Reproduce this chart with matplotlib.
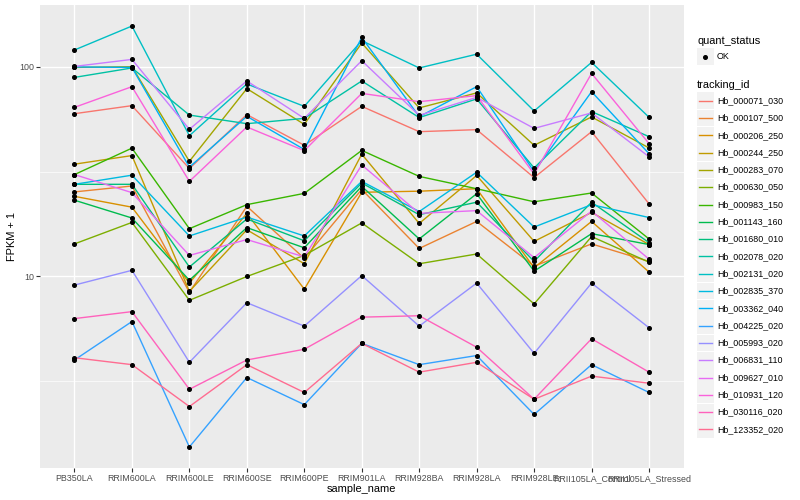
import numpy as np
import matplotlib
matplotlib.use('Agg')
import matplotlib.pyplot as plt
from matplotlib.patches import Rectangle
from matplotlib.lines import Line2D
from matplotlib.ticker import FixedLocator, NullFormatter

plt.rcParams['font.family'] = ['Liberation Sans', 'DejaVu Sans']

samples = ['PB350LA', 'RRIM600LA', 'RRIM600LE', 'RRIM600SE', 'RRIM600PE', 'RRIM901LA',
           'RRIM928BA', 'RRIM928LA', 'RRIM928LE', 'RRII105LA_Control', 'RRII105LA_Stressed']

tracking_ids = ['Hb_000071_030', 'Hb_000107_500', 'Hb_000206_250', 'Hb_000244_250',
                'Hb_000283_070', 'Hb_000630_050', 'Hb_000983_150', 'Hb_001143_160',
                'Hb_001680_010', 'Hb_002078_020', 'Hb_002131_020', 'Hb_002835_370',
                'Hb_003362_040', 'Hb_004225_020', 'Hb_005993_020', 'Hb_006831_110',
                'Hb_009627_010', 'Hb_010931_120', 'Hb_030116_020', 'Hb_123352_020']

# ggplot hue palette, 20 levels
colors = ['#F8766D', '#EA8331', '#D89000', '#C09B00', '#A3A500', '#7CAE00', '#39B600',
          '#00BB4E', '#00BF7D', '#00C1A3', '#00BFC4', '#00BAE0', '#00B0F6', '#35A2FF',
          '#9590FF', '#C77CFF', '#E76BF3', '#FA62DB', '#FF62BC', '#FF6C91']

# FPKM + 1, one value per sample
hb_000071_030 = [59.7, 65.2, 32.7, 59.1, 42.2, 64.7, 49.0, 50.1, 29.6, 49.0, 22.2]
hb_000107_500 = [25.3, 27.0, 8.4, 21.6, 12.2, 26.0, 13.6, 18.3, 11.2, 14.3, 11.8]
hb_000206_250 = [24.1, 21.4, 9.3, 20.0, 8.7, 25.2, 25.5, 26.2, 11.0, 18.3, 10.5]
hb_000244_250 = [34.3, 37.7, 8.5, 16.7, 11.5, 38.3, 17.9, 30.3, 14.7, 20.2, 14.2]
hb_000283_070 = [99.2, 100.0, 35.4, 78.6, 53.1, 129.7, 63.6, 75.0, 42.2, 57.6, 41.0]
hb_000630_050 = [14.3, 18.1, 7.7, 10.0, 12.6, 18.0, 11.5, 12.8, 7.4, 15.5, 11.7]
hb_000983_150 = [30.6, 40.9, 16.9, 22.0, 24.9, 39.9, 30.0, 26.2, 22.7, 25.0, 15.1]
hb_001143_160 = [23.1, 19.0, 9.6, 17.1, 13.7, 26.9, 15.1, 24.8, 10.6, 16.0, 14.2]
hb_001680_010 = [27.5, 27.5, 11.1, 18.8, 14.8, 27.9, 19.7, 22.6, 11.8, 22.6, 14.5]
hb_002078_020 = [88.9, 98.6, 58.8, 53.5, 56.7, 85.5, 57.2, 70.2, 32.9, 61.1, 46.4]
hb_002131_020 = [120.1, 156.2, 46.9, 82.7, 64.7, 133.0, 98.6, 114.7, 61.5, 104.8, 57.4]
hb_002835_370 = [27.5, 30.4, 15.6, 19.2, 15.6, 28.4, 20.4, 31.4, 17.2, 22.0, 19.1]
hb_003362_040 = [99.7, 99.2, 33.2, 58.0, 40.3, 137.9, 57.8, 80.3, 31.6, 76.0, 38.5]
hb_004225_020 = [4.0, 6.1, 1.54, 3.3, 2.45, 4.8, 3.8, 4.2, 2.2, 3.8, 2.8]
hb_005993_020 = [9.1, 10.7, 3.9, 7.5, 5.8, 10.1, 5.8, 9.3, 4.3, 9.3, 5.7]
hb_006831_110 = [100.3, 108.3, 50.3, 85.5, 56.7, 106.8, 58.6, 71.4, 50.8, 60.2, 37.2]
hb_009627_010 = [30.6, 25.1, 12.6, 15.0, 12.4, 34.0, 20.0, 20.6, 12.3, 20.5, 12.1]
hb_010931_120 = [64.0, 80.3, 28.4, 51.6, 39.8, 74.6, 68.1, 72.8, 30.8, 92.9, 43.0]
hb_030116_020 = [6.3, 6.8, 2.9, 4.0, 4.5, 6.4, 6.5, 4.6, 2.6, 5.05, 3.5]
hb_123352_020 = [4.1, 3.8, 2.4, 3.8, 2.8, 4.8, 3.5, 3.9, 2.6, 3.35, 3.1]

series = [hb_000071_030, hb_000107_500, hb_000206_250, hb_000244_250, hb_000283_070,
          hb_000630_050, hb_000983_150, hb_001143_160, hb_001680_010, hb_002078_020,
          hb_002131_020, hb_002835_370, hb_003362_040, hb_004225_020, hb_005993_020,
          hb_006831_110, hb_009627_010, hb_010931_120, hb_030116_020, hb_123352_020]

W, H = 800, 500
def fx(px):
    return px / W
def fy(py):
    return 1 - py / H

fig = plt.figure(figsize=(8, 5), dpi=100)
ax = fig.add_axes([fx(40), fy(468), (683.5 - 40) / W, (468 - 5) / H])

x = np.arange(1, len(samples) + 1)
for vals, c in zip(series, colors):
    ax.plot(x, vals, color=c, lw=1.0, zorder=2)
for vals in series:
    ax.plot(x, vals, ls='none', marker='o', color='black', ms=2.6, zorder=3)

ax.set_yscale('log')
allv = np.concatenate([np.array(s) for s in series])
lo, hi = np.log10(allv.min()), np.log10(allv.max())
pad = 0.05 * (hi - lo)
ax.set_ylim(10 ** (lo - pad), 10 ** (hi + pad))
ax.set_xlim(0.4, len(samples) + 0.6)

ax.set_facecolor('#EBEBEB')
for s in ax.spines.values():
    s.set_visible(False)
ax.set_xticks(x)
ax.set_xticklabels(samples)
ax.set_yticks([10, 100])
ax.set_yticklabels(['10', '100'])
ax.yaxis.set_minor_locator(FixedLocator([10 ** 0.5, 10 ** 1.5]))
ax.yaxis.set_minor_formatter(NullFormatter())
ax.xaxis.set_minor_locator(FixedLocator([]))
ax.grid(which='major', color='white', lw=1.0)
ax.grid(which='minor', axis='y', color='white', lw=0.5)
ax.set_axisbelow(True)
ax.tick_params(which='major', length=2.7, width=0.8, color='#333333', pad=1.6,
               labelsize=6.4, labelcolor='#4D4D4D')
ax.tick_params(which='minor', length=0)

fig.text(fx(361.75), fy(489), 'sample_name', fontsize=7.9, ha='center', va='center')
fig.text(fx(12), fy(236.5), 'FPKM + 1', fontsize=7.9, ha='center', va='center', rotation=90)

# legend: quant_status
fig.text(fx(697), fy(40.7), 'quant_status', fontsize=7.9, va='center')
fig.add_artist(Rectangle((fx(697), fy(65.2)), 16.5 / W, 17 / H, transform=fig.transFigure,
                         facecolor='#F2F2F2', edgecolor='none'))
fig.add_artist(Line2D([fx(705.2)], [fy(56.7)], marker='o', color='black', ms=2.6,
                      transform=fig.transFigure))
fig.text(fx(717), fy(56.7), 'OK', fontsize=6.4, va='center')

# legend: tracking_id
fig.text(fx(697), fy(85), 'tracking_id', fontsize=7.9, va='center')
for i, (name, c) in enumerate(zip(tracking_ids, colors)):
    yc = 100.7 + 17.3 * i
    fig.add_artist(Rectangle((fx(697), fy(yc + 8.4)), 16.5 / W, 16.8 / H,
                             transform=fig.transFigure, facecolor='#F2F2F2', edgecolor='none'))
    fig.add_artist(Line2D([fx(698.5), fx(712)], [fy(yc), fy(yc)], color=c, lw=1.0,
                          transform=fig.transFigure))
    fig.text(fx(717), fy(yc), name, fontsize=6.4, va='center')

fig.savefig('out.png', dpi=100)
